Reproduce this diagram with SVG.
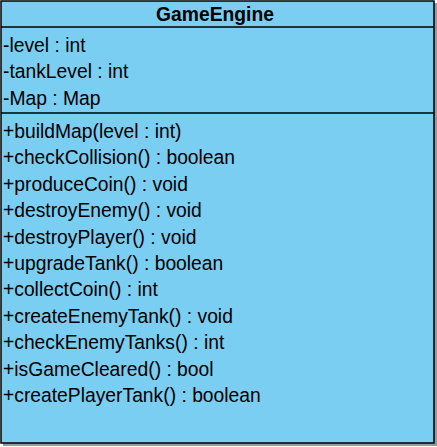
<svg xmlns="http://www.w3.org/2000/svg" width="437" height="447" viewBox="0 0 437 447">
<style>
.t{font-family:"Liberation Sans",Arial,sans-serif;font-size:19.3px;fill:#000}
.h{font-weight:bold;text-anchor:middle}
.ln{stroke:#000;stroke-width:1.5}
</style>
<g id="GameEngine">
<rect x="3" y="3" width="434" height="443" fill="#555" opacity="0.6"/>
<rect x="1" y="1" width="433" height="442" fill="#79CEF2" stroke="#000" stroke-width="1.5"/>
<line class="ln" x1="1" y1="27" x2="434" y2="27"/>
<line class="ln" x1="1" y1="113" x2="434" y2="113"/>
<text class="t h" x="215" y="21">GameEngine</text>
<text class="t" x="3" y="52">-level : int</text>
<text class="t" x="3" y="78">-tankLevel : int</text>
<text class="t" x="3" y="105">-Map : Map</text>
<text class="t" x="3" y="138">+buildMap(level : int)</text>
<text class="t" x="3" y="164">+checkCollision() : boolean</text>
<text class="t" x="3" y="191">+produceCoin() : void</text>
<text class="t" x="3" y="217">+destroyEnemy() : void</text>
<text class="t" x="3" y="244">+destroyPlayer() : void</text>
<text class="t" x="3" y="270">+upgradeTank() : boolean</text>
<text class="t" x="3" y="296">+collectCoin() : int</text>
<text class="t" x="3" y="323">+createEnemyTank() : void</text>
<text class="t" x="3" y="349">+checkEnemyTanks() : int</text>
<text class="t" x="3" y="376">+isGameCleared() : bool</text>
<text class="t" x="3" y="402">+createPlayerTank() : boolean</text>
</g>
</svg>
